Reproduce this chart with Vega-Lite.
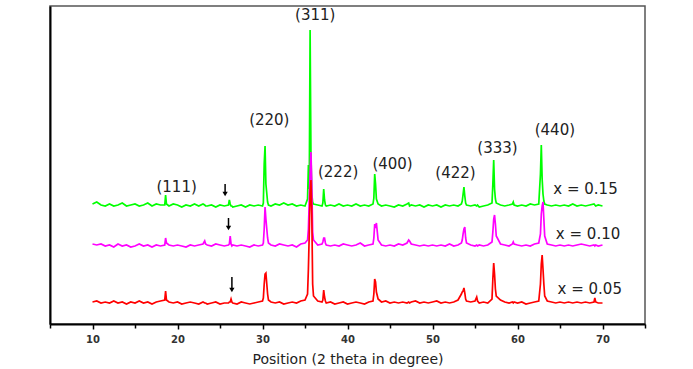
{
  "$schema": "https://vega.github.io/schema/vega-lite/v6.json",
  "width": 595,
  "height": 318,
  "autosize": {"type": "none"},
  "padding": {"left": 50, "top": 6, "right": 48, "bottom": 45},
  "background": "white",
  "config": {"view": {"stroke": "#555", "strokeWidth": 1.5}},
  "datasets": {
    "xrd": [
      {"x":10,"g":120,"m":80,"r":22},{"x":10.5,"g":122,"m":79,"r":23},{"x":11,"g":119,"m":80,"r":21},{"x":11.5,"g":118,"m":78,"r":22},
      {"x":12,"g":120,"m":79,"r":21},{"x":12.5,"g":118,"m":77,"r":23},{"x":13,"g":119,"m":80,"r":21},{"x":13.5,"g":121,"m":78,"r":22},
      {"x":14,"g":118,"m":79,"r":20},{"x":14.5,"g":119,"m":77,"r":22},{"x":15,"g":120,"m":78,"r":21},{"x":15.5,"g":118,"m":80,"r":23},
      {"x":16,"g":119,"m":78,"r":21},{"x":16.5,"g":121,"m":79,"r":22},{"x":17,"g":118,"m":77,"r":20},{"x":17.5,"g":120,"m":79,"r":22},
      {"x":18,"g":119,"m":78,"r":23},{"x":18.5,"g":119,"m":79,"r":24},{"x":18.6,"g":129,"m":86,"r":33},{"x":18.7,"g":120,"m":81,"r":24},
      {"x":19,"g":118,"m":79,"r":22},{"x":19.5,"g":120,"m":78,"r":21},{"x":20,"g":119,"m":79,"r":22},{"x":20.5,"g":117,"m":78,"r":20},
      {"x":21,"g":119,"m":77,"r":21},{"x":21.5,"g":118,"m":79,"r":22},{"x":22,"g":120,"m":78,"r":21},{"x":22.5,"g":118,"m":79,"r":20},
      {"x":23,"g":120,"m":80,"r":22},{"x":23.2,"g":119,"m":83,"r":21},{"x":23.3,"g":118,"m":80,"r":21},{"x":23.5,"g":118,"m":79,"r":20},
      {"x":24,"g":119,"m":78,"r":21},{"x":24.5,"g":117,"m":80,"r":22},{"x":25,"g":119,"m":79,"r":20},{"x":25.5,"g":118,"m":78,"r":21},
      {"x":26,"g":119,"m":79,"r":21},{"x":26.1,"g":124,"m":80,"r":22},{"x":26.2,"g":120,"m":88,"r":22},{"x":26.3,"g":118,"m":80,"r":25},
      {"x":26.4,"g":118,"m":78,"r":22},{"x":26.5,"g":117,"m":79,"r":21},{"x":27,"g":118,"m":78,"r":20},{"x":27.5,"g":119,"m":79,"r":22},
      {"x":28,"g":117,"m":78,"r":21},{"x":28.5,"g":119,"m":77,"r":20},{"x":29,"g":118,"m":79,"r":21},{"x":29.5,"g":119,"m":78,"r":22},
      {"x":30,"g":118,"m":79,"r":23},{"x":30.1,"g":121,"m":81,"r":26},{"x":30.2,"g":160,"m":95,"r":40},{"x":30.3,"g":178,"m":117,"r":50},
      {"x":30.4,"g":140,"m":105,"r":51},{"x":30.6,"g":122,"m":86,"r":30},{"x":30.7,"g":119,"m":81,"r":24},{"x":31,"g":118,"m":79,"r":22},
      {"x":31.5,"g":120,"m":78,"r":21},{"x":32,"g":119,"m":80,"r":22},{"x":32.5,"g":121,"m":79,"r":20},{"x":33,"g":119,"m":78,"r":21},
      {"x":33.5,"g":120,"m":79,"r":22},{"x":34,"g":118,"m":77,"r":21},{"x":34.5,"g":119,"m":80,"r":23},{"x":35,"g":118,"m":81,"r":24},
      {"x":35.3,"g":125,"m":84,"r":30},{"x":35.4,"g":159,"m":95,"r":55},{"x":35.5,"g":135,"m":124,"r":90},{"x":35.6,"g":294,"m":150,"r":130},
      {"x":35.7,"g":170,"m":172,"r":144},{"x":35.8,"g":130,"m":140,"r":110},{"x":35.9,"g":122,"m":92,"r":40},{"x":36,"g":120,"m":84,"r":28},
      {"x":36.5,"g":119,"m":79,"r":23},{"x":37,"g":118,"m":80,"r":22},{"x":37.1,"g":121,"m":82,"r":24},{"x":37.2,"g":135,"m":86,"r":34},
      {"x":37.3,"g":124,"m":86,"r":27},{"x":37.4,"g":119,"m":81,"r":23},{"x":37.5,"g":118,"m":79,"r":21},{"x":38,"g":119,"m":78,"r":22},
      {"x":38.5,"g":118,"m":79,"r":20},{"x":39,"g":120,"m":78,"r":21},{"x":39.5,"g":118,"m":80,"r":22},{"x":40,"g":119,"m":79,"r":20},
      {"x":40.5,"g":118,"m":78,"r":21},{"x":41,"g":120,"m":79,"r":22},{"x":41.5,"g":118,"m":81,"r":21},{"x":42,"g":119,"m":78,"r":20},
      {"x":42.5,"g":118,"m":79,"r":22},{"x":43,"g":120,"m":80,"r":23},{"x":43.1,"g":126,"m":86,"r":30},{"x":43.2,"g":150,"m":100,"r":45},
      {"x":43.3,"g":140,"m":96,"r":42},{"x":43.4,"g":125,"m":101,"r":32},{"x":43.6,"g":120,"m":84,"r":25},{"x":44,"g":118,"m":79,"r":22},
      {"x":44.5,"g":119,"m":78,"r":23},{"x":45,"g":118,"m":79,"r":21},{"x":45.5,"g":117,"m":78,"r":22},{"x":46,"g":119,"m":80,"r":21},
      {"x":46.5,"g":118,"m":79,"r":22},{"x":47,"g":120,"m":81,"r":21},{"x":47.2,"g":121,"m":84,"r":22},{"x":47.3,"g":118,"m":83,"r":21},
      {"x":47.5,"g":119,"m":80,"r":22},{"x":48,"g":118,"m":79,"r":23},{"x":48.5,"g":119,"m":78,"r":21},{"x":49,"g":117,"m":79,"r":22},
      {"x":49.5,"g":119,"m":78,"r":21},{"x":50,"g":118,"m":79,"r":22},{"x":50.5,"g":119,"m":78,"r":23},{"x":51,"g":117,"m":79,"r":21},
      {"x":51.5,"g":119,"m":78,"r":22},{"x":52,"g":118,"m":80,"r":21},{"x":52.5,"g":119,"m":78,"r":22},{"x":53,"g":118,"m":79,"r":24},
      {"x":53.4,"g":120,"m":81,"r":30},{"x":53.5,"g":123,"m":84,"r":32},{"x":53.6,"g":130,"m":90,"r":33},{"x":53.7,"g":137,"m":95,"r":36},
      {"x":53.8,"g":128,"m":97,"r":31},{"x":53.9,"g":121,"m":86,"r":25},{"x":54,"g":119,"m":81,"r":23},{"x":54.5,"g":118,"m":79,"r":22},
      {"x":55,"g":119,"m":78,"r":23},{"x":55.2,"g":118,"m":79,"r":27},{"x":55.3,"g":119,"m":78,"r":23},{"x":55.5,"g":117,"m":79,"r":21},
      {"x":56,"g":118,"m":78,"r":22},{"x":56.5,"g":119,"m":79,"r":21},{"x":57,"g":121,"m":82,"r":25},{"x":57.1,"g":140,"m":92,"r":45},
      {"x":57.2,"g":164,"m":105,"r":61},{"x":57.3,"g":135,"m":109,"r":50},{"x":57.4,"g":125,"m":100,"r":35},{"x":57.5,"g":121,"m":88,"r":28},
      {"x":58,"g":119,"m":80,"r":24},{"x":58.5,"g":118,"m":79,"r":22},{"x":59,"g":119,"m":78,"r":21},{"x":59.4,"g":120,"m":80,"r":22},
      {"x":59.5,"g":122,"m":82,"r":21},{"x":59.6,"g":119,"m":80,"r":22},{"x":60,"g":118,"m":79,"r":21},{"x":60.5,"g":119,"m":78,"r":22},
      {"x":61,"g":118,"m":79,"r":20},{"x":61.5,"g":120,"m":78,"r":21},{"x":62,"g":119,"m":80,"r":22},{"x":62.5,"g":120,"m":81,"r":23},
      {"x":62.7,"g":150,"m":90,"r":40},{"x":62.8,"g":179,"m":110,"r":60},{"x":62.9,"g":145,"m":118,"r":69},{"x":63,"g":130,"m":122,"r":55},
      {"x":63.1,"g":123,"m":105,"r":40},{"x":63.2,"g":120,"m":88,"r":28},{"x":63.5,"g":119,"m":80,"r":23},{"x":64,"g":118,"m":79,"r":22},
      {"x":64.5,"g":119,"m":78,"r":21},{"x":65,"g":118,"m":79,"r":22},{"x":65.5,"g":119,"m":78,"r":21},{"x":66,"g":118,"m":79,"r":22},
      {"x":66.5,"g":120,"m":78,"r":21},{"x":67,"g":118,"m":79,"r":22},{"x":67.5,"g":119,"m":80,"r":21},{"x":68,"g":118,"m":79,"r":22},
      {"x":68.5,"g":119,"m":78,"r":21},{"x":69,"g":120,"m":79,"r":22},{"x":69.1,"g":119,"m":78,"r":26},{"x":69.2,"g":118,"m":79,"r":22},
      {"x":69.5,"g":119,"m":78,"r":21},{"x":70,"g":118,"m":79,"r":21}
    ],
    "labels": [
      {"t":"(311)","x":36.2,"y":309},
      {"t":"(220)","x":30.8,"y":204},
      {"t":"(111)","x":19.9,"y":137},
      {"t":"(222)","x":38.9,"y":152},
      {"t":"(400)","x":45.3,"y":160},
      {"t":"(422)","x":52.7,"y":151},
      {"t":"(333)","x":57.65,"y":176},
      {"t":"(440)","x":64.4,"y":194},
      {"t":"x = 0.15","x":68.0,"y":135},
      {"t":"x = 0.10","x":68.3,"y":90},
      {"t":"x = 0.05","x":68.5,"y":35}
    ],
    "arrows": [
      {"x":25.6,"y1":140,"y2":130},
      {"x":26.0,"y1":106,"y2":96},
      {"x":26.4,"y1":47,"y2":34}
    ]
  },
  "layer": [
    {
      "data": {"name": "xrd"},
      "transform": [{"fold": ["g", "m", "r"], "as": ["s", "v"]}],
      "mark": {"type": "line", "strokeWidth": 1.7, "interpolate": "linear"},
      "encoding": {
        "x": {
          "field": "x", "type": "quantitative",
          "scale": {"domain": [5, 75], "nice": false, "zero": false},
          "axis": {
            "values": [5,10,15,20,25,30,35,40,45,50,55,60,65,70,75],
            "labelExpr": "(datum.value % 10 === 0) ? datum.label : ''",
            "title": "Position (2 theta in degree)",
            "titleFont": "DejaVu Sans", "titleFontSize": 14, "titleFontWeight": "normal", "titleColor": "#222",
            "titlePadding": 8,
            "labelFont": "DejaVu Sans", "labelFontSize": 10, "labelFontWeight": "bold", "labelColor": "#333", "labelPadding": 5,
            "labelFlush": false,
            "domainColor": "#000", "domainWidth": 2,
            "tickColor": "#000", "tickWidth": 1.5,
            "tickSize": {"condition": {"test": "datum.value % 10 === 0", "value": 5}, "value": 4},
            "grid": false
          }
        },
        "y": {
          "field": "v", "type": "quantitative",
          "scale": {"domain": [0, 318], "nice": false},
          "axis": {"title": null, "labels": false, "ticks": false, "grid": false, "domainColor": "#000", "domainWidth": 2}
        },
        "color": {
          "field": "s", "type": "nominal",
          "scale": {"domain": ["g", "m", "r"], "range": ["#00ff00", "#ff00ff", "#ff0000"]},
          "legend": null
        },
        "order": {"field": "x", "type": "quantitative"}
      }
    },
    {
      "data": {"name": "arrows"},
      "mark": {"type": "rule", "color": "#000", "strokeWidth": 1.5},
      "encoding": {
        "x": {"field": "x", "type": "quantitative"},
        "y": {"field": "y1", "type": "quantitative"},
        "y2": {"field": "y2"}
      }
    },
    {
      "data": {"name": "arrows"},
      "mark": {"type": "point", "shape": "triangle-down", "filled": true, "color": "#000", "size": 28, "opacity": 1},
      "encoding": {
        "x": {"field": "x", "type": "quantitative"},
        "y": {"field": "y2", "type": "quantitative"}
      }
    },
    {
      "data": {"name": "labels"},
      "mark": {"type": "text", "font": "DejaVu Sans", "fontSize": 15, "color": "#222", "align": "center", "baseline": "middle"},
      "encoding": {
        "x": {"field": "x", "type": "quantitative"},
        "y": {"field": "y", "type": "quantitative"},
        "text": {"field": "t"}
      }
    }
  ]
}
